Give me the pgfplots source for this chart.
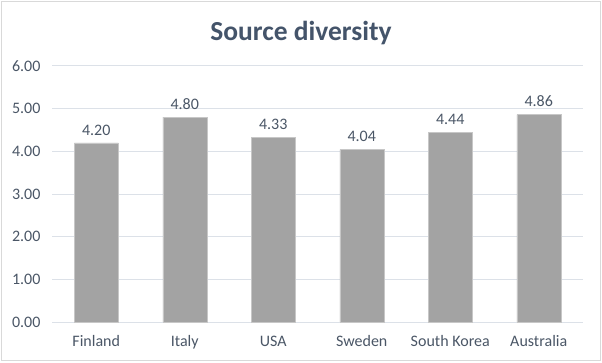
\documentclass[border=0pt]{standalone}
\usepackage{pgfplots}
\pgfplotsset{compat=1.18}
\usepackage{fontspec}
\setmainfont{Carlito}
\definecolor{titlec}{HTML}{44546A}
\definecolor{textc}{HTML}{4A5666}
\definecolor{gridc}{HTML}{DCE1E8}
\definecolor{barc}{HTML}{A3A3A3}
\definecolor{framec}{HTML}{D9D9D9}
\begin{document}
\begin{tikzpicture}[x=1pt,y=1pt]
\draw[use as bounding box, draw=none] (0,0) rectangle (602,362);
\draw[framec, line width=1.2pt] (1.5,1.5) rectangle (600.5,360.5);
\node[font=\bfseries\fontsize{27.5}{32}\selectfont, text=titlec] at (301,329) {Source diversity};
\begin{axis}[
  at={(52pt,40pt)}, anchor=south west,
  scale only axis, width=531pt, height=256pt,
  xmin=-0.5, xmax=5.5, ymin=0, ymax=6,
  xtick=data,
  xticklabels={Finland,Italy,USA,Sweden,South Korea,Australia},
  ytick={0,1,2,3,4,5,6},
  ymajorgrids, grid style={gridc, line width=1pt},
  axis line style={draw=none},
  major tick style={draw=none},
  ticklabel style={font=\fontsize{16}{19}\selectfont, text=textc},
  yticklabel style={xshift=-8pt, /pgf/number format/.cd, fixed, fixed zerofill, precision=2, assume math mode=true},
  xticklabel style={yshift=-6pt},
  ybar, bar width=44pt,
  nodes near coords,
  every node near coord/.append style={yshift=4pt},
  nodes near coords style={font=\fontsize{16}{19}\selectfont, text=textc, /pgf/number format/.cd, fixed, fixed zerofill, precision=2, assume math mode=true},
]
\addplot[fill=barc, draw=black!22, line width=0.5pt, bar shift=0pt] coordinates {(0,4.20) (1,4.80) (2,4.33) (3,4.04) (4,4.44) (5,4.86)};
\end{axis}
\end{tikzpicture}
\end{document}
